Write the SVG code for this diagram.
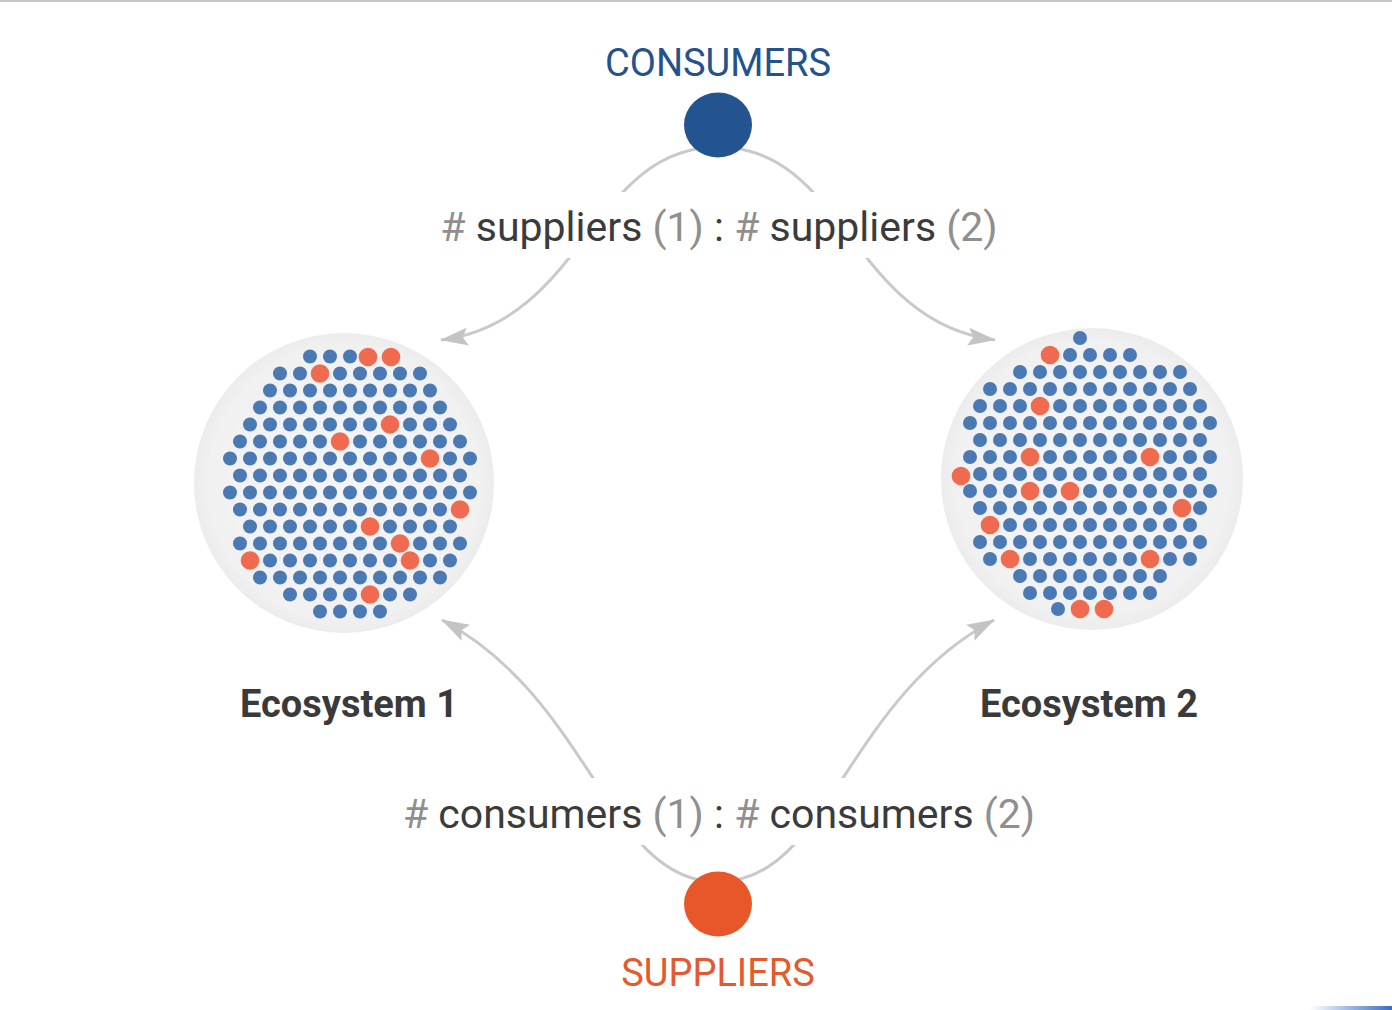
<svg xmlns="http://www.w3.org/2000/svg" width="1392" height="1010" viewBox="0 0 1392 1010">
<style>
.t{font-family:Roboto,"Liberation Sans",sans-serif}
.lbl{font-size:41px;fill:#3b3b3b;text-anchor:middle}
.g{fill:#8f8f8f}
.eco{font-size:38px;font-weight:bold;fill:#3a3a3a;text-anchor:middle}
.con{stroke:#c9c9c9;stroke-width:3;fill:none;marker-end:url(#ah)}
.b{fill:#4a79b3}
.r{fill:#ef6a4e}
</style>
<defs>
<marker id="ah" markerUnits="userSpaceOnUse" markerWidth="28" markerHeight="18" refX="27" refY="9" orient="auto">
<path d="M0,0 L28,9 L0,18 L5,9 z" fill="#c4c4c4"/>
</marker>
<radialGradient id="bg" cx="0.5" cy="0.5" r="0.5">
<stop offset="0" stop-color="#f5f5f5"/>
<stop offset="0.9" stop-color="#f1f1f1"/>
<stop offset="1" stop-color="#ececec"/>
</radialGradient>
<linearGradient id="bl" x1="0" y1="0" x2="1" y2="0">
<stop offset="0" stop-color="#3a6cc2" stop-opacity="0"/>
<stop offset="1" stop-color="#3a6cc2"/>
</linearGradient>
</defs>
<rect width="1392" height="1010" fill="#ffffff"/>
<rect x="0" y="0" width="1392" height="2" fill="#c6c6c6"/>
<rect x="1310" y="1006" width="82" height="4" fill="url(#bl)"/>

<g id="connectors">
<path class="con" d="M718,147 C592,147 584,322 441,340"/>
<path class="con" d="M718,147 C844,147 852,322 995,340"/>
<path class="con" d="M718,882 C608,882 592,700 442,620"/>
<path class="con" d="M718,882 C828,882 844,700 994,620"/>
</g>

<g id="label-suppliers">
<rect x="425" y="192" width="590" height="66" fill="#ffffff"/>
<text class="t lbl" x="719" y="241"><tspan class="g">#</tspan> suppliers <tspan class="g">(1)</tspan> : <tspan class="g">#</tspan> suppliers <tspan class="g">(2)</tspan></text>
</g>
<g id="label-consumers">
<rect x="390" y="778" width="660" height="67" fill="#ffffff"/>
<text class="t lbl" x="719" y="828"><tspan class="g">#</tspan> consumers <tspan class="g">(1)</tspan> : <tspan class="g">#</tspan> consumers <tspan class="g">(2)</tspan></text>
</g>

<g id="node-consumers">
<ellipse cx="718" cy="125" rx="34" ry="32.5" fill="#24548f"/>
<text class="t" x="718" y="76" font-size="38" fill="#24528c" text-anchor="middle">CONSUMERS</text>
</g>

<g id="node-suppliers">
<ellipse cx="718" cy="904" rx="34" ry="32.5" fill="#e8572a"/>
<text class="t" x="718" y="986" font-size="38" fill="#e35a2e" text-anchor="middle">SUPPLIERS</text>
</g>

<g id="node-ecosystem1">
<circle cx="344" cy="483" r="150" fill="url(#bg)"/>
<g class="b">
<circle cx="310" cy="356.5" r="7"/><circle cx="330" cy="356.5" r="7"/><circle cx="350" cy="356.5" r="7"/>
<circle cx="280" cy="373.5" r="7"/><circle cx="300" cy="373.5" r="7"/><circle cx="340" cy="373.5" r="7"/><circle cx="360" cy="373.5" r="7"/><circle cx="380" cy="373.5" r="7"/><circle cx="400" cy="373.5" r="7"/><circle cx="420" cy="373.5" r="7"/>
<circle cx="270" cy="390.5" r="7"/><circle cx="290" cy="390.5" r="7"/><circle cx="310" cy="390.5" r="7"/><circle cx="330" cy="390.5" r="7"/><circle cx="350" cy="390.5" r="7"/><circle cx="370" cy="390.5" r="7"/><circle cx="390" cy="390.5" r="7"/><circle cx="410" cy="390.5" r="7"/><circle cx="430" cy="390.5" r="7"/>
<circle cx="260" cy="407.5" r="7"/><circle cx="280" cy="407.5" r="7"/><circle cx="300" cy="407.5" r="7"/><circle cx="320" cy="407.5" r="7"/><circle cx="340" cy="407.5" r="7"/><circle cx="360" cy="407.5" r="7"/><circle cx="380" cy="407.5" r="7"/><circle cx="400" cy="407.5" r="7"/><circle cx="420" cy="407.5" r="7"/><circle cx="440" cy="407.5" r="7"/>
<circle cx="250" cy="424.5" r="7"/><circle cx="270" cy="424.5" r="7"/><circle cx="290" cy="424.5" r="7"/><circle cx="310" cy="424.5" r="7"/><circle cx="330" cy="424.5" r="7"/><circle cx="350" cy="424.5" r="7"/><circle cx="370" cy="424.5" r="7"/><circle cx="410" cy="424.5" r="7"/><circle cx="430" cy="424.5" r="7"/><circle cx="450" cy="424.5" r="7"/>
<circle cx="240" cy="441.5" r="7"/><circle cx="260" cy="441.5" r="7"/><circle cx="280" cy="441.5" r="7"/><circle cx="300" cy="441.5" r="7"/><circle cx="320" cy="441.5" r="7"/><circle cx="360" cy="441.5" r="7"/><circle cx="380" cy="441.5" r="7"/><circle cx="400" cy="441.5" r="7"/><circle cx="420" cy="441.5" r="7"/><circle cx="440" cy="441.5" r="7"/><circle cx="460" cy="441.5" r="7"/>
<circle cx="230" cy="458.5" r="7"/><circle cx="250" cy="458.5" r="7"/><circle cx="270" cy="458.5" r="7"/><circle cx="290" cy="458.5" r="7"/><circle cx="310" cy="458.5" r="7"/><circle cx="330" cy="458.5" r="7"/><circle cx="350" cy="458.5" r="7"/><circle cx="370" cy="458.5" r="7"/><circle cx="390" cy="458.5" r="7"/><circle cx="410" cy="458.5" r="7"/><circle cx="450" cy="458.5" r="7"/><circle cx="470" cy="458.5" r="7"/>
<circle cx="240" cy="475.5" r="7"/><circle cx="260" cy="475.5" r="7"/><circle cx="280" cy="475.5" r="7"/><circle cx="300" cy="475.5" r="7"/><circle cx="320" cy="475.5" r="7"/><circle cx="340" cy="475.5" r="7"/><circle cx="360" cy="475.5" r="7"/><circle cx="380" cy="475.5" r="7"/><circle cx="400" cy="475.5" r="7"/><circle cx="420" cy="475.5" r="7"/><circle cx="440" cy="475.5" r="7"/><circle cx="460" cy="475.5" r="7"/>
<circle cx="230" cy="492.5" r="7"/><circle cx="250" cy="492.5" r="7"/><circle cx="270" cy="492.5" r="7"/><circle cx="290" cy="492.5" r="7"/><circle cx="310" cy="492.5" r="7"/><circle cx="330" cy="492.5" r="7"/><circle cx="350" cy="492.5" r="7"/><circle cx="370" cy="492.5" r="7"/><circle cx="390" cy="492.5" r="7"/><circle cx="410" cy="492.5" r="7"/><circle cx="430" cy="492.5" r="7"/><circle cx="450" cy="492.5" r="7"/><circle cx="470" cy="492.5" r="7"/>
<circle cx="240" cy="509.5" r="7"/><circle cx="260" cy="509.5" r="7"/><circle cx="280" cy="509.5" r="7"/><circle cx="300" cy="509.5" r="7"/><circle cx="320" cy="509.5" r="7"/><circle cx="340" cy="509.5" r="7"/><circle cx="360" cy="509.5" r="7"/><circle cx="380" cy="509.5" r="7"/><circle cx="400" cy="509.5" r="7"/><circle cx="420" cy="509.5" r="7"/><circle cx="440" cy="509.5" r="7"/>
<circle cx="250" cy="526.5" r="7"/><circle cx="270" cy="526.5" r="7"/><circle cx="290" cy="526.5" r="7"/><circle cx="310" cy="526.5" r="7"/><circle cx="330" cy="526.5" r="7"/><circle cx="350" cy="526.5" r="7"/><circle cx="390" cy="526.5" r="7"/><circle cx="410" cy="526.5" r="7"/><circle cx="430" cy="526.5" r="7"/><circle cx="450" cy="526.5" r="7"/>
<circle cx="240" cy="543.5" r="7"/><circle cx="260" cy="543.5" r="7"/><circle cx="280" cy="543.5" r="7"/><circle cx="300" cy="543.5" r="7"/><circle cx="320" cy="543.5" r="7"/><circle cx="340" cy="543.5" r="7"/><circle cx="360" cy="543.5" r="7"/><circle cx="380" cy="543.5" r="7"/><circle cx="420" cy="543.5" r="7"/><circle cx="440" cy="543.5" r="7"/><circle cx="460" cy="543.5" r="7"/>
<circle cx="270" cy="560.5" r="7"/><circle cx="290" cy="560.5" r="7"/><circle cx="310" cy="560.5" r="7"/><circle cx="330" cy="560.5" r="7"/><circle cx="350" cy="560.5" r="7"/><circle cx="370" cy="560.5" r="7"/><circle cx="390" cy="560.5" r="7"/><circle cx="430" cy="560.5" r="7"/><circle cx="450" cy="560.5" r="7"/>
<circle cx="260" cy="577.5" r="7"/><circle cx="280" cy="577.5" r="7"/><circle cx="300" cy="577.5" r="7"/><circle cx="320" cy="577.5" r="7"/><circle cx="340" cy="577.5" r="7"/><circle cx="360" cy="577.5" r="7"/><circle cx="380" cy="577.5" r="7"/><circle cx="400" cy="577.5" r="7"/><circle cx="420" cy="577.5" r="7"/><circle cx="440" cy="577.5" r="7"/>
<circle cx="290" cy="594.5" r="7"/><circle cx="310" cy="594.5" r="7"/><circle cx="330" cy="594.5" r="7"/><circle cx="350" cy="594.5" r="7"/><circle cx="390" cy="594.5" r="7"/><circle cx="410" cy="594.5" r="7"/>
<circle cx="320" cy="611.5" r="7"/><circle cx="340" cy="611.5" r="7"/><circle cx="360" cy="611.5" r="7"/><circle cx="380" cy="611.5" r="7"/>
</g>
<g class="r">
<circle cx="368" cy="357" r="9.3"/><circle cx="391" cy="357" r="9.3"/><circle cx="320" cy="373.5" r="9.3"/><circle cx="390" cy="424.5" r="9.3"/><circle cx="340" cy="441.5" r="9.3"/><circle cx="430" cy="458.5" r="9.3"/><circle cx="460" cy="509.5" r="9.3"/><circle cx="370" cy="526.5" r="9.3"/><circle cx="400" cy="543.5" r="9.3"/><circle cx="250" cy="560.5" r="9.3"/><circle cx="410" cy="560.5" r="9.3"/><circle cx="370" cy="594.5" r="9.3"/>
</g>
<text class="t eco" x="349" y="717">Ecosystem 1</text>
</g>

<g id="node-ecosystem2">
<circle cx="1092" cy="479" r="151" fill="url(#bg)"/>
<g class="b">
<circle cx="1080" cy="338" r="7"/>
<circle cx="1070" cy="355" r="7"/><circle cx="1090" cy="355" r="7"/><circle cx="1110" cy="355" r="7"/><circle cx="1130" cy="355" r="7"/>
<circle cx="1020" cy="372" r="7"/><circle cx="1040" cy="372" r="7"/><circle cx="1060" cy="372" r="7"/><circle cx="1080" cy="372" r="7"/><circle cx="1100" cy="372" r="7"/><circle cx="1120" cy="372" r="7"/><circle cx="1140" cy="372" r="7"/><circle cx="1160" cy="372" r="7"/><circle cx="1180" cy="372" r="7"/>
<circle cx="990" cy="389" r="7"/><circle cx="1010" cy="389" r="7"/><circle cx="1030" cy="389" r="7"/><circle cx="1050" cy="389" r="7"/><circle cx="1070" cy="389" r="7"/><circle cx="1090" cy="389" r="7"/><circle cx="1110" cy="389" r="7"/><circle cx="1130" cy="389" r="7"/><circle cx="1150" cy="389" r="7"/><circle cx="1170" cy="389" r="7"/><circle cx="1190" cy="389" r="7"/>
<circle cx="980" cy="406" r="7"/><circle cx="1000" cy="406" r="7"/><circle cx="1020" cy="406" r="7"/><circle cx="1060" cy="406" r="7"/><circle cx="1080" cy="406" r="7"/><circle cx="1100" cy="406" r="7"/><circle cx="1120" cy="406" r="7"/><circle cx="1140" cy="406" r="7"/><circle cx="1160" cy="406" r="7"/><circle cx="1180" cy="406" r="7"/><circle cx="1200" cy="406" r="7"/>
<circle cx="970" cy="423" r="7"/><circle cx="990" cy="423" r="7"/><circle cx="1010" cy="423" r="7"/><circle cx="1030" cy="423" r="7"/><circle cx="1050" cy="423" r="7"/><circle cx="1070" cy="423" r="7"/><circle cx="1090" cy="423" r="7"/><circle cx="1110" cy="423" r="7"/><circle cx="1130" cy="423" r="7"/><circle cx="1150" cy="423" r="7"/><circle cx="1170" cy="423" r="7"/><circle cx="1190" cy="423" r="7"/><circle cx="1210" cy="423" r="7"/>
<circle cx="980" cy="440" r="7"/><circle cx="1000" cy="440" r="7"/><circle cx="1020" cy="440" r="7"/><circle cx="1040" cy="440" r="7"/><circle cx="1060" cy="440" r="7"/><circle cx="1080" cy="440" r="7"/><circle cx="1100" cy="440" r="7"/><circle cx="1120" cy="440" r="7"/><circle cx="1140" cy="440" r="7"/><circle cx="1160" cy="440" r="7"/><circle cx="1180" cy="440" r="7"/><circle cx="1200" cy="440" r="7"/>
<circle cx="970" cy="457" r="7"/><circle cx="990" cy="457" r="7"/><circle cx="1010" cy="457" r="7"/><circle cx="1050" cy="457" r="7"/><circle cx="1070" cy="457" r="7"/><circle cx="1090" cy="457" r="7"/><circle cx="1110" cy="457" r="7"/><circle cx="1130" cy="457" r="7"/><circle cx="1170" cy="457" r="7"/><circle cx="1190" cy="457" r="7"/><circle cx="1210" cy="457" r="7"/>
<circle cx="980" cy="474" r="7"/><circle cx="1000" cy="474" r="7"/><circle cx="1020" cy="474" r="7"/><circle cx="1040" cy="474" r="7"/><circle cx="1060" cy="474" r="7"/><circle cx="1080" cy="474" r="7"/><circle cx="1100" cy="474" r="7"/><circle cx="1120" cy="474" r="7"/><circle cx="1140" cy="474" r="7"/><circle cx="1160" cy="474" r="7"/><circle cx="1180" cy="474" r="7"/><circle cx="1200" cy="474" r="7"/>
<circle cx="970" cy="491" r="7"/><circle cx="990" cy="491" r="7"/><circle cx="1010" cy="491" r="7"/><circle cx="1050" cy="491" r="7"/><circle cx="1090" cy="491" r="7"/><circle cx="1110" cy="491" r="7"/><circle cx="1130" cy="491" r="7"/><circle cx="1150" cy="491" r="7"/><circle cx="1170" cy="491" r="7"/><circle cx="1190" cy="491" r="7"/><circle cx="1210" cy="491" r="7"/>
<circle cx="980" cy="508" r="7"/><circle cx="1000" cy="508" r="7"/><circle cx="1020" cy="508" r="7"/><circle cx="1040" cy="508" r="7"/><circle cx="1060" cy="508" r="7"/><circle cx="1080" cy="508" r="7"/><circle cx="1100" cy="508" r="7"/><circle cx="1120" cy="508" r="7"/><circle cx="1140" cy="508" r="7"/><circle cx="1160" cy="508" r="7"/><circle cx="1200" cy="508" r="7"/>
<circle cx="1010" cy="525" r="7"/><circle cx="1030" cy="525" r="7"/><circle cx="1050" cy="525" r="7"/><circle cx="1070" cy="525" r="7"/><circle cx="1090" cy="525" r="7"/><circle cx="1110" cy="525" r="7"/><circle cx="1130" cy="525" r="7"/><circle cx="1150" cy="525" r="7"/><circle cx="1170" cy="525" r="7"/><circle cx="1190" cy="525" r="7"/>
<circle cx="980" cy="542" r="7"/><circle cx="1000" cy="542" r="7"/><circle cx="1020" cy="542" r="7"/><circle cx="1040" cy="542" r="7"/><circle cx="1060" cy="542" r="7"/><circle cx="1080" cy="542" r="7"/><circle cx="1100" cy="542" r="7"/><circle cx="1120" cy="542" r="7"/><circle cx="1140" cy="542" r="7"/><circle cx="1160" cy="542" r="7"/><circle cx="1180" cy="542" r="7"/><circle cx="1200" cy="542" r="7"/>
<circle cx="990" cy="559" r="7"/><circle cx="1030" cy="559" r="7"/><circle cx="1050" cy="559" r="7"/><circle cx="1070" cy="559" r="7"/><circle cx="1090" cy="559" r="7"/><circle cx="1110" cy="559" r="7"/><circle cx="1130" cy="559" r="7"/><circle cx="1170" cy="559" r="7"/><circle cx="1190" cy="559" r="7"/>
<circle cx="1020" cy="576" r="7"/><circle cx="1040" cy="576" r="7"/><circle cx="1060" cy="576" r="7"/><circle cx="1080" cy="576" r="7"/><circle cx="1100" cy="576" r="7"/><circle cx="1120" cy="576" r="7"/><circle cx="1140" cy="576" r="7"/><circle cx="1160" cy="576" r="7"/>
<circle cx="1030" cy="593" r="7"/><circle cx="1050" cy="593" r="7"/><circle cx="1070" cy="593" r="7"/><circle cx="1090" cy="593" r="7"/><circle cx="1110" cy="593" r="7"/><circle cx="1130" cy="593" r="7"/><circle cx="1150" cy="593" r="7"/>
<circle cx="1058" cy="609" r="7"/>
</g>
<g class="r">
<circle cx="1050" cy="355" r="9.3"/><circle cx="1040" cy="406" r="9.3"/><circle cx="1030" cy="457" r="9.3"/><circle cx="1150" cy="457" r="9.3"/><circle cx="961" cy="476" r="9.3"/><circle cx="1030" cy="491" r="9.3"/><circle cx="1070" cy="491" r="9.3"/><circle cx="1182" cy="508" r="9.3"/><circle cx="990" cy="525" r="9.3"/><circle cx="1010" cy="559" r="9.3"/><circle cx="1150" cy="559" r="9.3"/><circle cx="1080" cy="609" r="9.3"/><circle cx="1104" cy="609" r="9.3"/>
</g>
<text class="t eco" x="1089" y="717">Ecosystem 2</text>
</g>
</svg>
